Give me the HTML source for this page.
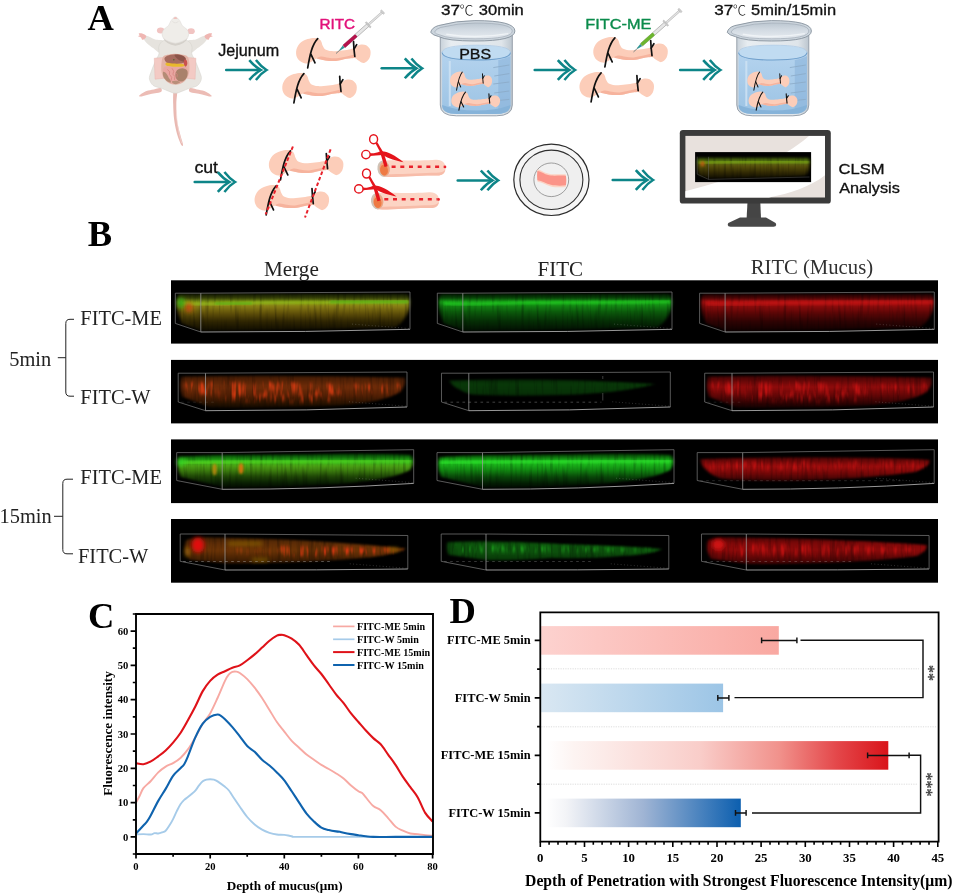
<!DOCTYPE html>
<html lang="en"><head><meta charset="utf-8"><title>Figure</title>
<style>html,body{margin:0;padding:0;background:#fff}svg{display:block}</style></head>
<body>
<svg width="955" height="895" viewBox="0 0 955 895">
<rect width="955" height="895" fill="#fff"/>
<defs>
<g id="segbody"><path d="M-0.30 12.60C-0.03 9.98 1.38 6.77 3.30 4.70C5.22 2.63 8.50 1.13 11.20 0.20C13.90 -0.73 17.32 -1.13 19.50 -0.90C21.68 -0.67 23.17 0.32 24.30 1.60C25.43 2.88 25.52 5.32 26.30 6.80C27.08 8.28 27.50 9.60 29.00 10.50C30.50 11.40 32.52 12.03 35.30 12.20C38.08 12.37 42.57 11.82 45.70 11.50C48.83 11.18 52.00 10.77 54.10 10.30C56.20 9.83 56.73 9.46 58.30 8.70C59.87 7.94 61.58 6.15 63.50 5.75C65.42 5.35 68.05 5.34 69.80 6.30C71.55 7.26 73.47 9.32 74.00 11.50C74.53 13.68 74.05 17.30 73.00 19.40C71.95 21.50 69.53 23.75 67.70 24.10C65.87 24.45 63.65 22.38 62.00 21.50C60.35 20.62 59.82 19.07 57.80 18.80C55.78 18.53 52.97 19.37 49.90 19.90C46.83 20.43 42.88 21.73 39.40 22.00C35.92 22.27 32.13 21.90 29.00 21.50C25.87 21.10 22.87 19.43 20.60 19.60C18.33 19.77 17.32 21.67 15.40 22.50C13.48 23.33 11.38 24.95 9.10 24.60C6.82 24.25 3.27 22.40 1.70 20.40C0.13 18.40 -0.57 15.22 -0.30 12.60Z" fill="#fccdb9"/><path d="M20.60 19.60C19.93 18.95 23.10 17.73 25.00 17.60C26.90 17.47 29.50 18.50 32.00 18.80C34.50 19.10 37.00 19.60 40.00 19.40C43.00 19.20 47.03 18.20 50.00 17.60C52.97 17.00 56.50 15.60 57.80 15.80C59.10 16.00 59.12 18.12 57.80 18.80C56.48 19.48 52.97 19.37 49.90 19.90C46.83 20.43 42.88 21.73 39.40 22.00C35.92 22.27 32.13 21.90 29.00 21.50C25.87 21.10 21.27 20.25 20.60 19.60Z" fill="#f6b39d"/></g>
<g id="ties" fill="none" stroke="#111" stroke-width="1.7" stroke-linecap="round"><path d="M21.3 -0.2C15.5 6 13.5 16 11.3 28.9"/><path d="M14.6 15.5L18.6 23.9"/><path d="M57.1 2.5C57.3 8 57.8 13 58.4 17.6"/><path d="M57.6 10.1L60.3 5.7"/></g>
<g id="seg"><use href="#segbody"/><use href="#ties"/></g>
<g id="arrow" fill="none" stroke="#0d8588" stroke-width="2.5" stroke-linejoin="miter" stroke-miterlimit="6"><path d="M-42.3 0H-8" stroke-linecap="round"/><path d="M-19.2 -9.9Q-13.6 -3.2 -7.6 0Q-13.6 3.2 -19.2 9.9"/><path d="M-12.6 -9.9Q-7.4 -3.2 -2 0Q-7.4 3.2 -12.6 9.9"/></g>
<g id="syr"><path d="M0 0L6 0" stroke="#6a7a7a" stroke-width="0.8"/><path d="M5.2 -0.5L10.6 -1.5V1.5L5.2 0.5Z" fill="#2f9696"/><rect x="10.6" y="-1.65" width="32.6" height="3.3" fill="#e6e6e6" stroke="#9c9c9c" stroke-width="0.6"/><rect x="10.6" y="-1.75" width="16.6" height="3.5" rx="0.8" style="fill:var(--l)"/><rect x="42.4" y="-3.6" width="1.5" height="7.2" rx="0.5" fill="#cfcfcf" stroke="#a2a2a2" stroke-width="0.4"/><rect x="43.9" y="-0.9" width="18" height="1.8" fill="#e2e2e2" stroke="#a8a8a8" stroke-width="0.5"/><rect x="61.4" y="-2.3" width="1.7" height="4.6" rx="0.5" fill="#d2d2d2" stroke="#a2a2a2" stroke-width="0.4"/></g>
<linearGradient id="water" x1="0" y1="0" x2="0" y2="1"><stop offset="0" stop-color="#b4d3ee"/><stop offset="1" stop-color="#9cc3e4"/></linearGradient>
<linearGradient id="glass" x1="0" y1="0" x2="1" y2="0"><stop offset="0" stop-color="#c9d2da"/><stop offset="0.15" stop-color="#e8edf1"/><stop offset="0.85" stop-color="#dfe5ea"/><stop offset="1" stop-color="#bcc6cf"/></linearGradient>
<linearGradient id="rimg" x1="0" y1="0" x2="0" y2="1"><stop offset="0" stop-color="#bcc7d1"/><stop offset="0.45" stop-color="#d3dbe3"/><stop offset="1" stop-color="#e6ebf0"/></linearGradient>
<g id="beaker"><path d="M-36 33V105Q-36 115.8 -20 115.8H20Q36 115.8 36 105V33Z" fill="url(#glass)" stroke="#8e99a4" stroke-width="0.9"/><path d="M-34.2 52.6V105Q-34.2 114 -19 114H19Q34.2 114 34.2 105V52.6Z" fill="url(#water)"/><path d="M22 60V112.5Q34.2 111 34.2 105V56Q30 58.5 22 60Z" fill="#8db5dc" opacity="0.65"/><path d="M-34.2 105Q-34.2 114 -19 114H19Q34.2 114 34.2 105Q20 110.5 0 110.5Q-20 110.5 -34.2 105Z" fill="#86b3d9"/><ellipse cx="0" cy="52.6" rx="34.2" ry="7.4" fill="#c0dbf1"/><path d="M-34.2 52.6Q-34 60 0 60Q34 60 34.2 52.6" fill="none" stroke="#6f9fcb" stroke-width="1.1"/><path d="M-34.2 52.6Q-34 45.2 0 45.2Q34 45.2 34.2 52.6" fill="none" stroke="#a9c9e6" stroke-width="0.7"/><path d="M-26.5 61V106" stroke="#cfe3f4" stroke-width="2" opacity="0.85"/><g stroke="#8aa9c6" stroke-width="0.8"><path d="M17 67.6L33 65"/><path d="M18 76L33 73.6"/><path d="M17 84L33 82"/><path d="M18 93L33 91"/><path d="M17 101L33 99.4"/></g><path d="M-45.6 32.4Q-44.5 27.5 -38 25.6Q-20 20.6 -1.4 20.6Q38.6 20.6 38.6 31Q38.6 41 -1.4 41Q-29 41 -37.5 36.6Q-43.5 35.2 -45.6 32.4Z" fill="#ccd5dd" stroke="#87929d" stroke-width="0.9"/><path d="M-41.8 32.2Q-40.6 28.8 -35.5 27.4Q-18 23 -1.2 23Q36 23 36 31Q36 38.8 -1.2 38.8Q-28 38.8 -35.6 35.2Q-40.4 34.2 -41.8 32.2Z" fill="url(#rimg)" stroke="#a0abb6" stroke-width="0.7"/><path d="M-30 34.2Q-1 39.2 32 33.6" fill="none" stroke="#f1f4f7" stroke-width="1.4" opacity="0.9"/></g>
</defs>
<text x="87.6" y="29.7" style="font-family:'Liberation Serif',serif;font-weight:bold;font-size:36.5px">A</text>
<g transform="translate(130,10) scale(0.15652)"><path d="M279.00 515.00C274.83 529.17 275.50 569.17 276.00 600.00C276.50 630.83 278.00 668.33 282.00 700.00C286.00 731.67 292.33 763.00 300.00 790.00C307.67 817.00 321.67 850.67 328.00 862.00C334.33 873.33 339.67 870.83 338.00 858.00C336.33 845.17 324.33 811.33 318.00 785.00C311.67 758.67 303.67 730.83 300.00 700.00C296.33 669.17 295.83 630.83 296.00 600.00C296.17 569.17 303.83 529.17 301.00 515.00C298.17 500.83 283.17 500.83 279.00 515.00Z" fill="#e9b9b2"/><path d="M296 640C298 700 306 770 330 850" fill="none" stroke="#f6dcd8" stroke-width="4"/><path d="M195.00 498.00C185.00 496.00 156.67 506.00 140.00 510.00C123.33 514.00 108.67 515.67 95.00 522.00C81.33 528.33 61.33 543.00 58.00 548.00C54.67 553.00 64.67 553.33 75.00 552.00C85.33 550.67 105.83 543.33 120.00 540.00C134.17 536.67 146.67 535.00 160.00 532.00C173.33 529.00 194.17 527.67 200.00 522.00C205.83 516.33 205.00 500.00 195.00 498.00Z" fill="#ecbcb5"/><path d="M385.00 498.00C395.00 496.00 423.33 506.00 440.00 510.00C456.67 514.00 471.33 515.67 485.00 522.00C498.67 528.33 518.67 543.00 522.00 548.00C525.33 553.00 515.33 553.33 505.00 552.00C494.67 550.67 474.17 543.33 460.00 540.00C445.83 536.67 433.33 535.00 420.00 532.00C406.67 529.00 385.83 527.67 380.00 522.00C374.17 516.33 375.00 500.00 385.00 498.00Z" fill="#ecbcb5"/><path d="M215.00 200.00C208.67 185.50 178.33 193.83 160.00 188.00C141.67 182.17 117.00 165.83 105.00 165.00C93.00 164.17 87.50 175.17 88.00 183.00C88.50 190.83 97.67 201.67 108.00 212.00C118.33 222.33 135.00 234.50 150.00 245.00C165.00 255.50 187.17 282.50 198.00 275.00C208.83 267.50 221.33 214.50 215.00 200.00Z" fill="#e6e3de"/><path d="M365.00 200.00C371.33 185.50 401.67 193.83 420.00 188.00C438.33 182.17 463.00 165.83 475.00 165.00C487.00 164.17 492.50 175.17 492.00 183.00C491.50 190.83 482.33 201.67 472.00 212.00C461.67 222.33 445.00 234.50 430.00 245.00C415.00 255.50 392.83 282.50 382.00 275.00C371.17 267.50 358.67 214.50 365.00 200.00Z" fill="#e6e3de"/><path d="M104.00 166.00C101.67 160.00 86.00 152.67 78.00 150.00C70.00 147.33 58.67 148.00 56.00 150.00C53.33 152.00 62.67 159.00 62.00 162.00C61.33 165.00 50.67 165.67 52.00 168.00C53.33 170.33 65.67 172.33 70.00 176.00C74.33 179.67 74.33 188.33 78.00 190.00C81.67 191.67 87.67 190.00 92.00 186.00C96.33 182.00 106.33 172.00 104.00 166.00Z" fill="#efb6b2"/><path d="M476.00 166.00C478.33 160.00 494.00 152.67 502.00 150.00C510.00 147.33 521.33 148.00 524.00 150.00C526.67 152.00 517.33 159.00 518.00 162.00C518.67 165.00 529.33 165.67 528.00 168.00C526.67 170.33 514.33 172.33 510.00 176.00C505.67 179.67 505.67 188.33 502.00 190.00C498.33 191.67 492.33 190.00 488.00 186.00C483.67 182.00 473.67 172.00 476.00 166.00Z" fill="#efb6b2"/><path d="M215.00 195.00C197.50 203.33 190.00 215.83 185.00 230.00C180.00 244.17 188.33 265.00 185.00 280.00C181.67 295.00 173.33 300.83 165.00 320.00C156.67 339.17 141.83 375.00 135.00 395.00C128.17 415.00 121.83 425.50 124.00 440.00C126.17 454.50 135.33 472.00 148.00 482.00C160.67 492.00 183.00 493.67 200.00 500.00C217.00 506.33 235.00 514.67 250.00 520.00C265.00 525.33 276.67 532.00 290.00 532.00C303.33 532.00 315.00 525.33 330.00 520.00C345.00 514.67 363.00 506.33 380.00 500.00C397.00 493.67 419.33 492.00 432.00 482.00C444.67 472.00 453.83 454.50 456.00 440.00C458.17 425.50 451.83 415.00 445.00 395.00C438.17 375.00 423.33 339.17 415.00 320.00C406.67 300.83 398.33 295.00 395.00 280.00C391.67 265.00 400.00 244.17 395.00 230.00C390.00 215.83 382.50 203.33 365.00 195.00C347.50 186.67 315.00 180.00 290.00 180.00C265.00 180.00 232.50 186.67 215.00 195.00Z" fill="#e8e5e0" stroke="#d3cfc9" stroke-width="3"/><ellipse cx="196" cy="131" rx="24" ry="19" fill="#f1c4c2"/><ellipse cx="390" cy="135" rx="24" ry="19" fill="#f1c4c2"/><path d="M210 178Q290 250 370 178Q350 222 290 228Q230 222 210 178Z" fill="#d4d0ca"/><path d="M290.00 44.00C280.67 44.00 269.33 58.67 262.00 68.00C254.67 77.33 253.67 90.67 246.00 100.00C238.33 109.33 222.83 115.33 216.00 124.00C209.17 132.67 205.00 142.33 205.00 152.00C205.00 161.67 208.50 173.67 216.00 182.00C223.50 190.33 237.67 197.00 250.00 202.00C262.33 207.00 276.67 212.00 290.00 212.00C303.33 212.00 317.67 207.00 330.00 202.00C342.33 197.00 356.50 190.33 364.00 182.00C371.50 173.67 375.00 161.67 375.00 152.00C375.00 142.33 370.83 132.67 364.00 124.00C357.17 115.33 341.67 109.33 334.00 100.00C326.33 90.67 325.33 77.33 318.00 68.00C310.67 58.67 299.33 44.00 290.00 44.00Z" fill="#efede9" stroke="#d9d5cf" stroke-width="3"/><path d="M276 52Q290 40 304 52Q290 60 276 52Z" fill="#efb4b0"/><path d="M270 72Q290 92 310 72" fill="none" stroke="#d9d5cf" stroke-width="3"/><path d="M155 308L218 303L218 436L160 442Z" fill="#f3cac4" stroke="#e4aea7" stroke-width="2.5"/><path d="M362 303L421 308L416 442L362 436Z" fill="#f3cac4" stroke="#e4aea7" stroke-width="2.5"/><path d="M208.00 305.00C216.00 285.67 236.33 288.33 250.00 284.00C263.67 279.67 276.67 279.00 290.00 279.00C303.33 279.00 316.33 279.67 330.00 284.00C343.67 288.33 364.00 285.67 372.00 305.00C380.00 324.33 382.50 374.50 378.00 400.00C373.50 425.50 359.67 445.33 345.00 458.00C330.33 470.67 308.17 476.00 290.00 476.00C271.83 476.00 250.67 470.67 236.00 458.00C221.33 445.33 206.67 425.50 202.00 400.00C197.33 374.50 200.00 324.33 208.00 305.00Z" fill="#e3b3a6"/><path d="M220.00 312.00C219.67 304.00 226.33 296.83 238.00 292.00C249.67 287.17 273.83 283.33 290.00 283.00C306.17 282.67 324.00 285.83 335.00 290.00C346.00 294.17 353.50 300.67 356.00 308.00C358.50 315.33 359.33 327.83 350.00 334.00C340.67 340.17 318.33 344.00 300.00 345.00C281.67 346.00 253.33 345.50 240.00 340.00C226.67 334.50 220.33 320.00 220.00 312.00Z" fill="#a66b5e"/><path d="M285.00 288.00C288.33 283.33 318.50 286.67 330.00 290.00C341.50 293.33 351.00 301.33 354.00 308.00C357.00 314.67 355.33 328.33 348.00 330.00C340.67 331.67 320.50 325.00 310.00 318.00C299.50 311.00 281.67 292.67 285.00 288.00Z" fill="#8b5449"/><circle cx="280" cy="318" r="5" fill="#4f6a2c"/><path d="M347.00 318.00C350.00 313.33 358.83 317.50 362.00 322.00C365.17 326.50 367.00 338.33 366.00 345.00C365.00 351.67 359.67 361.17 356.00 362.00C352.33 362.83 345.50 357.33 344.00 350.00C342.50 342.67 344.00 322.67 347.00 318.00Z" fill="#c9524e"/><path d="M214.00 372.00C219.00 360.33 235.67 361.00 250.00 360.00C264.33 359.00 284.00 366.00 300.00 366.00C316.00 366.00 335.00 357.67 346.00 360.00C357.00 362.33 363.67 368.33 366.00 380.00C368.33 391.67 366.00 416.67 360.00 430.00C354.00 443.33 341.67 453.33 330.00 460.00C318.33 466.67 303.33 469.67 290.00 470.00C276.67 470.33 261.67 468.67 250.00 462.00C238.33 455.33 226.00 445.00 220.00 430.00C214.00 415.00 209.00 383.67 214.00 372.00Z" fill="#e9a6a1"/><path d="M300.00 385.00C307.50 377.00 324.00 371.50 335.00 372.00C346.00 372.50 361.17 378.67 366.00 388.00C370.83 397.33 368.67 416.83 364.00 428.00C359.33 439.17 347.67 451.33 338.00 455.00C328.33 458.67 314.00 455.83 306.00 450.00C298.00 444.17 291.00 430.83 290.00 420.00C289.00 409.17 292.50 393.00 300.00 385.00Z" fill="#a9826b"/><path d="M212.00 395.00C215.00 391.17 225.33 397.50 232.00 405.00C238.67 412.50 247.00 430.50 252.00 440.00C257.00 449.50 264.33 459.50 262.00 462.00C259.67 464.50 246.00 460.67 238.00 455.00C230.00 449.33 218.33 438.00 214.00 428.00C209.67 418.00 209.00 398.83 212.00 395.00Z" fill="#b48c76"/><path d="M270.00 455.00C274.33 452.33 291.67 450.83 300.00 452.00C308.33 453.17 320.67 458.33 320.00 462.00C319.33 465.67 303.67 473.00 296.00 474.00C288.33 475.00 278.33 471.17 274.00 468.00C269.67 464.83 265.67 457.67 270.00 455.00Z" fill="#b98f7a"/><path d="M238 380Q262 392 252 412Q276 428 262 452M268 372Q288 392 274 410Q296 424 284 446M292 400Q308 410 300 430" fill="none" stroke="#d5837f" stroke-width="5"/><path d="M230.00 338.00C235.67 335.67 251.67 340.67 270.00 342.00C288.33 343.33 327.83 343.00 340.00 346.00C352.17 349.00 349.67 357.17 343.00 360.00C336.33 362.83 317.83 363.67 300.00 363.00C282.17 362.33 247.67 360.17 236.00 356.00C224.33 351.83 224.33 340.33 230.00 338.00Z" fill="#e9b92c"/></g>
<text x="218.2" y="55.5" textLength="61.0" lengthAdjust="spacingAndGlyphs" style="font-family:'Liberation Sans',sans-serif;font-size:16px" fill="#111" stroke="#111" stroke-width="0.32">Jejunum</text>
<use href="#arrow" x="268.5" y="70"/>
<use href="#seg" x="296.4" y="38.9"/>
<use href="#seg" x="282.6" y="73.9"/>
<text x="319.4" y="28.9" textLength="35.6" lengthAdjust="spacingAndGlyphs" style="font-family:'Liberation Sans',sans-serif;font-size:15.5px" fill="#e2127a" stroke="#e2127a" stroke-width="0.45">RITC</text>
<g transform="translate(336,53.5) rotate(-41.7)" style="--l:#b5124c"><use href="#syr" class="syr1"/></g>
<use href="#arrow" x="424" y="68.3"/>
<text x="441.0" y="14.7" textLength="19.0" lengthAdjust="spacingAndGlyphs" style="font-family:'Liberation Sans',sans-serif;font-size:14.6px" fill="#111" stroke="#111" stroke-width="0.32">37</text>
<text x="459.6" y="14.7" textLength="14" lengthAdjust="spacingAndGlyphs" style="font-family:'Liberation Sans','Noto Sans CJK SC',sans-serif;font-size:14px;font-weight:300" fill="#111">℃</text>
<text x="478.8" y="14.7" textLength="45.0" lengthAdjust="spacingAndGlyphs" style="font-family:'Liberation Sans',sans-serif;font-size:14.6px" fill="#111" stroke="#111" stroke-width="0.32">30min</text>
<use href="#beaker" x="476.3" y="0"/>
<text x="459.2" y="59.0" textLength="32.0" lengthAdjust="spacingAndGlyphs" style="font-family:'Liberation Sans',sans-serif;font-size:14.6px" fill="#111" stroke="#111" stroke-width="0.32">PBS</text>
<g transform="translate(450.2,72.2) scale(0.565,0.62)"><use href="#seg"/></g>
<g transform="translate(451.5,92.2) scale(0.655,0.62)"><use href="#seg"/></g>
<use href="#arrow" x="577" y="70"/>
<text x="585.3" y="29.1" textLength="66.2" lengthAdjust="spacingAndGlyphs" style="font-family:'Liberation Sans',sans-serif;font-size:14.8px" fill="#0b8b4b" stroke="#0b8b4b" stroke-width="0.36">FITC-ME</text>
<use href="#seg" x="593.6" y="38"/>
<use href="#seg" x="579.8" y="73"/>
<g transform="translate(633.5,51.9) rotate(-41.7)" style="--l:#6cb52e"><use href="#syr"/></g>
<use href="#arrow" x="722.4" y="70"/>
<text x="714.3" y="15.4" textLength="19.0" lengthAdjust="spacingAndGlyphs" style="font-family:'Liberation Sans',sans-serif;font-size:14.1px" fill="#111" stroke="#111" stroke-width="0.32">37</text>
<text x="732.7" y="15.4" textLength="13.4" lengthAdjust="spacingAndGlyphs" style="font-family:'Liberation Sans','Noto Sans CJK SC',sans-serif;font-size:13.6px;font-weight:300" fill="#111">℃</text>
<text x="751.1" y="15.4" textLength="85.0" lengthAdjust="spacingAndGlyphs" style="font-family:'Liberation Sans',sans-serif;font-size:14.1px" fill="#111" stroke="#111" stroke-width="0.32">5min/15min</text>
<use href="#beaker" x="772.8" y="0"/>
<g transform="translate(747.5,72.2) scale(0.565,0.62)"><use href="#seg"/></g>
<g transform="translate(748.8,92.2) scale(0.655,0.62)"><use href="#seg"/></g>
<text x="194.4" y="173.0" textLength="23.6" lengthAdjust="spacingAndGlyphs" style="font-family:'Liberation Sans',sans-serif;font-size:16px" fill="#111" stroke="#111" stroke-width="0.32">cut</text>
<use href="#arrow" x="237" y="182"/>
<use href="#seg" x="269.2" y="151"/>
<use href="#seg" x="254.9" y="186"/>
<g stroke="#e8212b" stroke-width="2" stroke-dasharray="3.6 2.3" fill="none"><path d="M292.9 146.5L265.7 214.3"/><path d="M330.6 149.4L305 217.5"/></g>
<g transform="translate(377.4,160.2)"><path d="M6 0.3C20 -0.8 45 1.2 58 -0.4C65 -1 68.2 3.5 68.2 7.8C68.2 12.5 65.5 15.6 59 15.3C45 14.8 20 17.2 6 16.6Z" fill="#fcd4c4"/><path d="M6 13.8C20 14.6 45 12.6 59 12.6C63.5 12.6 66.5 11.4 67.8 9.6C67.2 13.6 64.5 15.6 59 15.3C45 14.8 20 17.2 6 16.6Z" fill="#f7bca9"/><ellipse cx="6.2" cy="8.4" rx="6.2" ry="8.3" fill="#cfc2b6" transform="rotate(-8 6.2 8.4)"/><ellipse cx="7.2" cy="8.6" rx="5" ry="7.2" fill="#f3a27c" transform="rotate(-8 7.2 8.6)"/><ellipse cx="6.6" cy="10" rx="3.9" ry="5.4" fill="#ee7a44" transform="rotate(-8 6.6 10)"/><path d="M14.2 6.6H66.6" stroke="#e8212b" stroke-width="2.6" stroke-dasharray="4 4.7" fill="none"/><circle cx="67.6" cy="6.7" r="1.3" fill="#e8212b"/></g>
<g transform="translate(371.0,192.7)"><path d="M6 0.3C20 -0.8 45 1.2 58 -0.4C65 -1 68.2 3.5 68.2 7.8C68.2 12.5 65.5 15.6 59 15.3C45 14.8 20 17.2 6 16.6Z" fill="#fcd4c4"/><path d="M6 13.8C20 14.6 45 12.6 59 12.6C63.5 12.6 66.5 11.4 67.8 9.6C67.2 13.6 64.5 15.6 59 15.3C45 14.8 20 17.2 6 16.6Z" fill="#f7bca9"/><ellipse cx="6.2" cy="8.4" rx="6.2" ry="8.3" fill="#cfc2b6" transform="rotate(-8 6.2 8.4)"/><ellipse cx="7.2" cy="8.6" rx="5" ry="7.2" fill="#f3a27c" transform="rotate(-8 7.2 8.6)"/><ellipse cx="6.6" cy="10" rx="3.9" ry="5.4" fill="#ee7a44" transform="rotate(-8 6.6 10)"/><path d="M13.3 6.6H66.6" stroke="#e8212b" stroke-width="2.6" stroke-dasharray="4 4.7" fill="none"/><circle cx="67.6" cy="6.7" r="1.3" fill="#e8212b"/></g>
<g transform="translate(373.6,139.2) scale(0.10471)" fill="#e5141c"><path d="M16 38C34 70 48 94 60 118L104 266L134 258C120 200 106 152 88 118C70 84 50 54 36 28Z"/><path d="M-36 134C-5 138 30 132 62 116C120 108 200 150 286 219C220 206 140 186 88 150C40 150 0 158 -34 161Z"/><ellipse cx="0" cy="0" rx="38" ry="43" fill="#fff" stroke="#e5141c" stroke-width="13.5"/><ellipse cx="-73" cy="147" rx="40" ry="40" fill="#fff" stroke="#e5141c" stroke-width="13.5"/></g>
<g transform="translate(366.5,173.5) scale(0.10471)" fill="#e5141c"><path d="M16 38C34 70 48 94 60 118L104 266L134 258C120 200 106 152 88 118C70 84 50 54 36 28Z"/><path d="M-36 134C-5 138 30 132 62 116C120 108 200 150 286 219C220 206 140 186 88 150C40 150 0 158 -34 161Z"/><ellipse cx="0" cy="0" rx="38" ry="43" fill="#fff" stroke="#e5141c" stroke-width="13.5"/><ellipse cx="-73" cy="147" rx="40" ry="40" fill="#fff" stroke="#e5141c" stroke-width="13.5"/></g>
<use href="#arrow" x="500" y="180.4"/>
<ellipse cx="551.4" cy="179.8" rx="37.6" ry="35.7" fill="#f6f6f6" stroke="#2c2c2c" stroke-width="1.2"/>
<ellipse cx="551.4" cy="179.8" rx="31.5" ry="29.7" fill="#efefef" stroke="#2f2f2f" stroke-width="1.1"/>
<ellipse cx="551.3" cy="179.8" rx="17.4" ry="16.8" fill="#f1f1f1" stroke="#7a7a7a" stroke-width="0.7"/>
<path d="M537.6 169.6C541 170 546 174 551 174.2C556 174.4 561 174 565.6 174.3C566.4 178 566.4 183 565.6 186.9C561 187.6 555 187.4 551 186.4C546 185.2 542 182.4 537.6 181.8C536.8 178 536.8 173 537.6 169.6Z" fill="#fcd3c4"/>
<path d="M537.4 171C541 171.4 546 175.4 551 175.6C556 175.8 561 175.4 565.9 175.7C566.4 179 566.4 182 565.9 185.3C561 186 555 185.8 551 184.8C546 183.6 542 180.8 537.4 180.2C537 177 537 174 537.4 171Z" fill="#fb9489"/>
<use href="#arrow" x="655" y="180"/>
<path d="M747.6 200H760.2L761 218.5H746.6Z" fill="#454545"/>
<path d="M740 217.4H766L775.6 223Q777.4 226.8 773.5 226.8H730.5Q726.5 226.8 728.3 223Z" fill="#484848"/>
<rect x="679.8" y="130" width="151" height="73.6" rx="3.2" fill="#3b3b3b"/>
<rect x="685.4" y="135.9" width="139.6" height="61.6" fill="#e8e1dd"/>
<path d="M685.4 191.2C730 180 775 165 809 135.9H825V175.3C810 187 790 193.5 769 197.5H685.4Z" fill="#fff"/>
<linearGradient id="mon" gradientUnits="userSpaceOnUse" x1="0" y1="156" x2="0" y2="179"><stop offset="0" stop-color="#1c2402"/><stop offset="0.25" stop-color="#5c8012"/><stop offset="0.4" stop-color="#5c560c"/><stop offset="0.7" stop-color="#342c04"/><stop offset="1" stop-color="#0c0a00"/></linearGradient>
<rect x="695.1" y="152.1" width="116" height="30" fill="#000"/>
<path d="M698.5 157.5H808.5Q810 158 809.6 163Q809 172 806 175.5C780 177.5 730 178.5 708 178.6L699 175.5Q697 168 697.3 160Q697.5 157.5 698.5 157.5Z" fill="url(#mon)" filter="url(#fx)"/>
<path d="M699 162.6Q750 161.5 809 161.8" fill="none" stroke="#86b01a" stroke-width="1.8" filter="url(#bl1)" opacity="0.85"/>
<path d="M735 164H800" fill="none" stroke="#a08a14" stroke-width="2.5" filter="url(#bl1)" opacity="0.5"/>
<ellipse cx="702.5" cy="163.8" rx="2.2" ry="2.8" fill="#c25a0c" filter="url(#bl1)" opacity="0.8"/>
<path d="M757 160V165" stroke="#e03010" stroke-width="1" filter="url(#bl1)"/>
<path d="M697.2 156.6V174.2L708.5 179.4V156.8M708.5 179.4L809.5 177" fill="none" stroke="#777" stroke-width="0.5" opacity="0.7"/>
<text x="838.5" y="174.1" textLength="46.0" lengthAdjust="spacingAndGlyphs" style="font-family:'Liberation Sans',sans-serif;font-size:15.3px" fill="#111" stroke="#111" stroke-width="0.32">CLSM</text>
<text x="839.2" y="192.7" textLength="60.6" lengthAdjust="spacingAndGlyphs" style="font-family:'Liberation Sans',sans-serif;font-size:15.3px" fill="#111" stroke="#111" stroke-width="0.32">Analysis</text>
<text x="87.8" y="246.2" style="font-family:'Liberation Serif',serif;font-weight:bold;font-size:36.5px">B</text>
<g fill="#222" style="font-family:'Liberation Serif',serif;font-size:20.4px">
<text x="263.9" y="276.1" style="font-size:21.2px">Merge</text>
<text x="537.6" y="276" style="font-size:21px">FITC</text>
<text x="750.7" y="273.8" style="font-size:20.7px" fill="#303030">RITC (Mucus)</text>
<text x="80.3" y="325">FITC-ME</text>
<text x="80.3" y="404">FITC-W</text>
<text x="9.3" y="365.8">5min</text>
<text x="80.3" y="484.2">FITC-ME</text>
<text x="78" y="563.3">FITC-W</text>
<text x="-0.4" y="523.2">15min</text>
</g>
<g fill="none" stroke="#222" stroke-width="1"><path d="M74 319.3H70Q65.8 319.3 65.8 323.5V392Q65.8 396.2 70 396.2H74M65.8 357.7H57.8"/><path d="M73 479.2H67Q62.8 479.2 62.8 483.4V549.6Q62.8 553.8 67 553.8H73M62.8 516.3H54"/></g>
<rect x="171" y="280.3" width="767" height="63.3" fill="#000"/>
<rect x="171" y="359.9" width="767" height="63.5" fill="#000"/>
<rect x="171" y="439.4" width="767" height="63.7" fill="#000"/>
<rect x="171" y="519.0" width="767" height="63.7" fill="#000"/>
<defs>
<filter id="fx" x="-5%" y="-30%" width="110%" height="160%" color-interpolation-filters="sRGB"><feTurbulence type="fractalNoise" baseFrequency="0.3 0.03" numOctaves="2" seed="7" result="n"/><feColorMatrix in="n" type="matrix" values="0 0 0 0 1 0 0 0 0 1 0 0 0 0 1 0.7 0 0 0 0.62" result="m"/><feGaussianBlur in="SourceGraphic" stdDeviation="1.5 1.2" result="b"/><feComposite in="b" in2="m" operator="in"/></filter>
<filter id="fs1" x="-5%" y="-40%" width="110%" height="180%" color-interpolation-filters="sRGB"><feTurbulence type="fractalNoise" baseFrequency="0.22 0.045" numOctaves="2" seed="3" result="n"/><feColorMatrix in="n" type="matrix" values="0 0 0 0 1 0 0 0 0 1 0 0 0 0 1 3.6 0 0 0 -1.75" result="m"/><feGaussianBlur in="SourceGraphic" stdDeviation="1.6 1.6" result="b"/><feComposite in="b" in2="m" operator="in" result="c"/><feGaussianBlur in="c" stdDeviation="0.5 0.9"/></filter>
<filter id="fs2" x="-5%" y="-40%" width="110%" height="180%" color-interpolation-filters="sRGB"><feTurbulence type="fractalNoise" baseFrequency="0.22 0.045" numOctaves="2" seed="11" result="n"/><feColorMatrix in="n" type="matrix" values="0 0 0 0 1 0 0 0 0 1 0 0 0 0 1 3.6 0 0 0 -1.7" result="m"/><feGaussianBlur in="SourceGraphic" stdDeviation="1.6 1.6" result="b"/><feComposite in="b" in2="m" operator="in" result="c"/><feGaussianBlur in="c" stdDeviation="0.5 0.9"/></filter>
<filter id="fs3" x="-5%" y="-40%" width="110%" height="180%" color-interpolation-filters="sRGB"><feTurbulence type="fractalNoise" baseFrequency="0.22 0.045" numOctaves="2" seed="23" result="n"/><feColorMatrix in="n" type="matrix" values="0 0 0 0 1 0 0 0 0 1 0 0 0 0 1 3.4 0 0 0 -1.6" result="m"/><feGaussianBlur in="SourceGraphic" stdDeviation="1.6 1.6" result="b"/><feComposite in="b" in2="m" operator="in" result="c"/><feGaussianBlur in="c" stdDeviation="0.5 0.9"/></filter>
<filter id="bl2" x="-50%" y="-50%" width="200%" height="200%"><feGaussianBlur stdDeviation="2.2"/></filter>
<filter id="bl1" x="-50%" y="-50%" width="200%" height="200%"><feGaussianBlur stdDeviation="1.1"/></filter>
<linearGradient id="g1m" gradientUnits="userSpaceOnUse" x1="0" y1="293" x2="0" y2="332"><stop offset="0" stop-color="#141a02"/><stop offset="0.12" stop-color="#2e3806"/><stop offset="0.23" stop-color="#86a018"/><stop offset="0.33" stop-color="#8a8014"/><stop offset="0.5" stop-color="#64540a"/><stop offset="0.72" stop-color="#302602"/><stop offset="1" stop-color="#0a0800"/></linearGradient>
<linearGradient id="g1f" gradientUnits="userSpaceOnUse" x1="0" y1="293" x2="0" y2="332"><stop offset="0" stop-color="#021a02"/><stop offset="0.12" stop-color="#063c06"/><stop offset="0.23" stop-color="#1aac1a"/><stop offset="0.33" stop-color="#128412"/><stop offset="0.5" stop-color="#0a560a"/><stop offset="0.72" stop-color="#052e05"/><stop offset="1" stop-color="#010c01"/></linearGradient>
<linearGradient id="g1r" gradientUnits="userSpaceOnUse" x1="0" y1="293" x2="0" y2="332"><stop offset="0" stop-color="#1a0101"/><stop offset="0.12" stop-color="#440505"/><stop offset="0.23" stop-color="#b01010"/><stop offset="0.33" stop-color="#8e0b0b"/><stop offset="0.5" stop-color="#5e0606"/><stop offset="0.72" stop-color="#300303"/><stop offset="1" stop-color="#0c0000"/></linearGradient>
<linearGradient id="g2m" gradientUnits="userSpaceOnUse" x1="0" y1="373" x2="0" y2="410"><stop offset="0" stop-color="#2a1202"/><stop offset="0.2" stop-color="#542206"/><stop offset="0.38" stop-color="#702c08"/><stop offset="0.6" stop-color="#542004"/><stop offset="0.85" stop-color="#221000"/><stop offset="1" stop-color="#0a0400"/></linearGradient>
<linearGradient id="g2f" gradientUnits="userSpaceOnUse" x1="0" y1="373" x2="0" y2="410"><stop offset="0" stop-color="#021002"/><stop offset="0.3" stop-color="#083808"/><stop offset="0.5" stop-color="#073207"/><stop offset="1" stop-color="#020c02"/></linearGradient>
<linearGradient id="g2r" gradientUnits="userSpaceOnUse" x1="0" y1="373" x2="0" y2="410"><stop offset="0" stop-color="#260202"/><stop offset="0.2" stop-color="#620707"/><stop offset="0.38" stop-color="#920b0b"/><stop offset="0.6" stop-color="#640606"/><stop offset="0.85" stop-color="#260202"/><stop offset="1" stop-color="#0a0000"/></linearGradient>
<linearGradient id="g3m" gradientUnits="userSpaceOnUse" x1="0" y1="452" x2="0" y2="489"><stop offset="0" stop-color="#043004"/><stop offset="0.12" stop-color="#0c600a"/><stop offset="0.26" stop-color="#32c01a"/><stop offset="0.36" stop-color="#4ca414"/><stop offset="0.5" stop-color="#3c7e0e"/><stop offset="0.66" stop-color="#1e4606"/><stop offset="0.85" stop-color="#081c02"/><stop offset="1" stop-color="#020800"/></linearGradient>
<linearGradient id="g3f" gradientUnits="userSpaceOnUse" x1="0" y1="452" x2="0" y2="489"><stop offset="0" stop-color="#033003"/><stop offset="0.12" stop-color="#0a620a"/><stop offset="0.26" stop-color="#20cc20"/><stop offset="0.36" stop-color="#18ac18"/><stop offset="0.5" stop-color="#108410"/><stop offset="0.66" stop-color="#094a09"/><stop offset="0.85" stop-color="#031c03"/><stop offset="1" stop-color="#010801"/></linearGradient>
<linearGradient id="g3r" gradientUnits="userSpaceOnUse" x1="0" y1="452" x2="0" y2="489"><stop offset="0" stop-color="#1c0101"/><stop offset="0.2" stop-color="#5c0606"/><stop offset="0.38" stop-color="#9c0c0c"/><stop offset="0.55" stop-color="#7c0808"/><stop offset="0.8" stop-color="#300202"/><stop offset="1" stop-color="#0c0000"/></linearGradient>
<linearGradient id="g4m" gradientUnits="userSpaceOnUse" x1="0" y1="534" x2="0" y2="570"><stop offset="0" stop-color="#2c1402"/><stop offset="0.25" stop-color="#5c2c06"/><stop offset="0.45" stop-color="#6c3406"/><stop offset="0.75" stop-color="#3c1c02"/><stop offset="1" stop-color="#140800"/></linearGradient>
<linearGradient id="g4f" gradientUnits="userSpaceOnUse" x1="0" y1="534" x2="0" y2="570"><stop offset="0" stop-color="#031c03"/><stop offset="0.3" stop-color="#0c540c"/><stop offset="0.5" stop-color="#0c500c"/><stop offset="0.8" stop-color="#052c05"/><stop offset="1" stop-color="#021002"/></linearGradient>
<linearGradient id="g4r" gradientUnits="userSpaceOnUse" x1="0" y1="534" x2="0" y2="570"><stop offset="0" stop-color="#2c0202"/><stop offset="0.25" stop-color="#7c0808"/><stop offset="0.45" stop-color="#8c0a0a"/><stop offset="0.75" stop-color="#4c0404"/><stop offset="1" stop-color="#180000"/></linearGradient>
</defs>
<g transform="translate(0.0,0)">
<path filter="url(#fx)" fill="url(#g1m)" d="M180 294H406Q410 294.5 409.6 302Q409.2 318 396 327.2Q300 330.5 202 331L182 323.5Q176.5 312 177 299Q177.5 294 180 294Z"/>
<path d="M182 303.5Q200 304.5 230 303.5T300 302.5T408 301.5" fill="none" stroke="#96c41c" stroke-width="2.2" filter="url(#bl1)" opacity="0.8"/>
<ellipse cx="181" cy="303" rx="3.6" ry="5.5" fill="#34a812" filter="url(#bl2)" opacity="0.9"/>
<ellipse cx="189" cy="307.5" rx="3.6" ry="5" fill="#cc4c0a" filter="url(#bl2)" opacity="0.85"/>
<path d="M215 303.5H252M330 301.8H408" stroke="#4cb414" stroke-width="2.2" filter="url(#bl1)" opacity="0.75"/>
<path d="M255 303H330" stroke="#a8a418" stroke-width="2.4" filter="url(#bl1)" opacity="0.6"/>
<path d="M302.6 297.5V308" stroke="#e43410" stroke-width="1.5" filter="url(#bl1)"/>
<g fill="none" stroke="#7e7e7e" stroke-width="0.7"><path d="M175.3 293.2V323.4L200.8 332.0M175.3 293.2H200.8L410.0 292.0V329.3"/></g><path d="M200.8 293.2V332.0" fill="none" stroke="#9e9e9e" stroke-width="0.75"/><path d="M200.8 332.0Q305.4 332.2 410.0 329.3" fill="none" stroke="#b2b2b2" stroke-width="0.85"/><path d="M352.0 324.1L409.0 328.5" fill="none" stroke="#bbb" stroke-width="0.7" stroke-dasharray="0.9 2.4" opacity="0.4"/>
</g>
<g transform="translate(262.0,0)">
<path filter="url(#fx)" fill="url(#g1f)" d="M180 294H406Q410 294.5 409.6 302Q409.2 318 396 327.2Q300 330.5 202 331L182 323.5Q176.5 312 177 299Q177.5 294 180 294Z"/>
<path d="M182 303.5Q200 304.5 230 303.5T300 302.5T408 301.5" fill="none" stroke="#24d424" stroke-width="2.4" filter="url(#bl1)" opacity="0.7"/>
<g fill="none" stroke="#7e7e7e" stroke-width="0.7"><path d="M175.3 293.2V323.4L200.8 332.0M175.3 293.2H200.8L410.0 292.0V329.3"/></g><path d="M200.8 293.2V332.0" fill="none" stroke="#9e9e9e" stroke-width="0.75"/><path d="M200.8 332.0Q305.4 332.2 410.0 329.3" fill="none" stroke="#b2b2b2" stroke-width="0.85"/><path d="M352.0 324.1L409.0 328.5" fill="none" stroke="#bbb" stroke-width="0.7" stroke-dasharray="0.9 2.4" opacity="0.4"/>
</g>
<g transform="translate(524.3,0)">
<path filter="url(#fx)" fill="url(#g1r)" d="M180 294H406Q410 294.5 409.6 302Q409.2 318 396 327.2Q300 330.5 202 331L182 323.5Q176.5 312 177 299Q177.5 294 180 294Z"/>
<path d="M182 303.5Q200 304.5 230 303.5T300 302.5T408 301.5" fill="none" stroke="#ec1a1a" stroke-width="5" filter="url(#bl1)" opacity="0.3"/>
<g fill="none" stroke="#7e7e7e" stroke-width="0.7"><path d="M175.3 293.2V323.4L200.8 332.0M175.3 293.2H200.8L410.0 292.0V329.3"/></g><path d="M200.8 293.2V332.0" fill="none" stroke="#9e9e9e" stroke-width="0.75"/><path d="M200.8 332.0Q305.4 332.2 410.0 329.3" fill="none" stroke="#b2b2b2" stroke-width="0.85"/><path d="M352.0 324.1L409.0 328.5" fill="none" stroke="#bbb" stroke-width="0.7" stroke-dasharray="0.9 2.4" opacity="0.4"/>
</g>
<g transform="translate(0.0,0)">
<path filter="url(#fx)" fill="url(#g2m)" d="M182 376.5Q290 374.5 404 377.5Q406.5 384 400 392Q385 402 340 405.5Q270 408.5 210 407.5L183 397Q179 386 182 376.5Z"/>
<path d="M184 383Q240 381 300 383T402 384V392Q300 397 250 397T186 390Z" fill="#dc3c12" filter="url(#fs2)" opacity="0.85"/>
<path d="M215 390Q260 396 330 394V402Q260 404 220 400Z" fill="#dc3c12" filter="url(#fs3)" opacity="0.6"/>
<path d="M263.5 372V377.5" stroke="#e01010" stroke-width="1" filter="url(#bl1)"/>
<path d="M392 386V394" stroke="#e01010" stroke-width="1.1" filter="url(#bl1)"/>
<g fill="none" stroke="#7e7e7e" stroke-width="0.7"><path d="M178.2 373.2V402.0L205.5 410.7M178.2 373.2H205.5L407.0 372.0V407.0"/></g><path d="M205.5 373.2V410.7" fill="none" stroke="#9e9e9e" stroke-width="0.75"/><path d="M205.5 410.7Q306.2 410.9 407.0 407.0" fill="none" stroke="#b2b2b2" stroke-width="0.85"/><path d="M181.2 402.2H215.0" fill="none" stroke="#c8c8c8" stroke-width="0.65" stroke-dasharray="2.6 3.4" opacity="0.20"/><path d="M349.0 401.8L406.0 406.2" fill="none" stroke="#bbb" stroke-width="0.7" stroke-dasharray="0.9 2.4" opacity="0.4"/>
</g>
<g transform="translate(263.3,0)">
<path filter="url(#fx)" fill="url(#g2f)" d="M186 380.5Q290 377.5 392 384Q360 393 300 395Q240 396.5 208 394.5Q190 389 186 380.5Z"/>
<path d="M339.5 376V400.5" fill="none" stroke="#6a6a6a" stroke-width="0.6" stroke-dasharray="3 14 8 20"/>
<g fill="none" stroke="#7e7e7e" stroke-width="0.7"><path d="M178.2 373.2V402.0L205.5 410.7M178.2 373.2H205.5L407.0 372.0V407.0"/></g><path d="M205.5 373.2V410.7" fill="none" stroke="#9e9e9e" stroke-width="0.75"/><path d="M205.5 410.7Q306.2 410.9 407.0 407.0" fill="none" stroke="#b2b2b2" stroke-width="0.85"/><path d="M181.2 402.2H338.0" fill="none" stroke="#c8c8c8" stroke-width="0.65" stroke-dasharray="2.6 3.4" opacity="0.50"/><path d="M349.0 401.8L406.0 406.2" fill="none" stroke="#bbb" stroke-width="0.7" stroke-dasharray="0.9 2.4" opacity="0.4"/>
</g>
<g transform="translate(526.5,0)">
<path filter="url(#fx)" fill="url(#g2r)" d="M182 376.5Q290 374.5 404 377.5Q406.5 384 400 392Q385 402 340 405.5Q270 408.5 210 407.5L183 397Q179 386 182 376.5Z"/>
<path d="M184 383Q240 381 300 383T402 384V392Q300 397 250 397T186 390Z" fill="#ec1818" filter="url(#fs2)" opacity="0.55"/>
<path d="M215 390Q260 396 330 394V402Q260 404 220 400Z" fill="#ec1818" filter="url(#fs3)" opacity="0.4"/>
<path d="M263.5 372V377.5" stroke="#e01010" stroke-width="1" filter="url(#bl1)"/>
<path d="M392 386V394" stroke="#e01010" stroke-width="1.1" filter="url(#bl1)"/>
<g fill="none" stroke="#7e7e7e" stroke-width="0.7"><path d="M178.2 373.2V402.0L205.5 410.7M178.2 373.2H205.5L407.0 372.0V407.0"/></g><path d="M205.5 373.2V410.7" fill="none" stroke="#9e9e9e" stroke-width="0.75"/><path d="M205.5 410.7Q306.2 410.9 407.0 407.0" fill="none" stroke="#b2b2b2" stroke-width="0.85"/><path d="M181.2 402.2H215.0" fill="none" stroke="#c8c8c8" stroke-width="0.65" stroke-dasharray="2.6 3.4" opacity="0.20"/><path d="M349.0 401.8L406.0 406.2" fill="none" stroke="#bbb" stroke-width="0.7" stroke-dasharray="0.9 2.4" opacity="0.4"/>
</g>
<g transform="translate(0.0,0)">
<path filter="url(#fx)" fill="url(#g3m)" d="M179 457Q200 454.5 300 454.5Q380 453 411 455Q415.5 462 410 470Q395 479 340 484Q270 488 224 487.5L181 477Q176 467 179 457Z"/>
<path d="M180 462.5Q300 461 411 461" fill="none" stroke="#5cdc24" stroke-width="2.6" filter="url(#bl1)" opacity="0.7"/>
<ellipse cx="241" cy="468.5" rx="2.4" ry="5.5" fill="#e07408" filter="url(#bl1)" opacity="0.9"/>
<ellipse cx="214.6" cy="469.5" rx="2.2" ry="6" fill="#cc8c0c" filter="url(#bl1)" opacity="0.8"/>
<path d="M235 466H300" stroke="#a8b414" stroke-width="4" filter="url(#bl2)" opacity="0.55"/>
<ellipse cx="181" cy="462" rx="4" ry="4" fill="#30d428" filter="url(#bl2)" opacity="0.8"/>
<path d="M330 461.5H408" stroke="#2ce424" stroke-width="3" filter="url(#bl2)" opacity="0.7"/>
<g fill="none" stroke="#7e7e7e" stroke-width="0.7"><path d="M176.7 452.6V480.5L222.2 489.3M176.7 452.6H222.2L413.7 449.7V483.4"/></g><path d="M222.2 452.6V489.3" fill="none" stroke="#9e9e9e" stroke-width="0.75"/><path d="M222.2 489.3Q317.9 489.5 413.7 483.4" fill="none" stroke="#b2b2b2" stroke-width="0.85"/><path d="M355.7 478.2L412.7 482.6" fill="none" stroke="#bbb" stroke-width="0.7" stroke-dasharray="0.9 2.4" opacity="0.4"/>
</g>
<g transform="translate(260.3,0)">
<path filter="url(#fx)" fill="url(#g3f)" d="M179 457Q200 454.5 300 454.5Q380 453 411 455Q415.5 462 410 470Q395 479 340 484Q270 488 224 487.5L181 477Q176 467 179 457Z"/>
<path d="M180 462.5Q300 461 411 461" fill="none" stroke="#30e830" stroke-width="2.6" filter="url(#bl1)" opacity="0.7"/>
<path d="M330 461.5H408" stroke="#2ce424" stroke-width="3" filter="url(#bl2)" opacity="0.7"/>
<g fill="none" stroke="#7e7e7e" stroke-width="0.7"><path d="M176.7 452.6V480.5L222.2 489.3M176.7 452.6H222.2L413.7 449.7V483.4"/></g><path d="M222.2 452.6V489.3" fill="none" stroke="#9e9e9e" stroke-width="0.75"/><path d="M222.2 489.3Q317.9 489.5 413.7 483.4" fill="none" stroke="#b2b2b2" stroke-width="0.85"/><path d="M355.7 478.2L412.7 482.6" fill="none" stroke="#bbb" stroke-width="0.7" stroke-dasharray="0.9 2.4" opacity="0.4"/>
</g>
<g transform="translate(520.5,0)">
<path filter="url(#fx)" fill="url(#g3r)" d="M180 459Q250 456.5 330 457.5Q390 458 409 460Q410 466 395 472Q340 479.5 280 480.5Q225 481.5 200 478.5Q182 472 180 459Z"/>
<path d="M184 462Q300 460 405 462V468Q300 470 190 470Z" fill="#ec1818" filter="url(#fs2)" opacity="0.5"/>
<path d="M225 466H300" stroke="#e01818" stroke-width="3" filter="url(#bl2)" opacity="0.5"/>
<path d="M282.5 452.5V457" stroke="#e01010" stroke-width="1" filter="url(#bl1)"/>
<g fill="none" stroke="#7e7e7e" stroke-width="0.7"><path d="M176.7 452.6V480.5L222.2 489.3M176.7 452.6H222.2L413.7 449.7V483.4"/></g><path d="M222.2 452.6V489.3" fill="none" stroke="#9e9e9e" stroke-width="0.75"/><path d="M222.2 489.3Q317.9 489.5 413.7 483.4" fill="none" stroke="#b2b2b2" stroke-width="0.85"/><path d="M179.7 480.7H380.0" fill="none" stroke="#c8c8c8" stroke-width="0.65" stroke-dasharray="2.6 3.4" opacity="0.30"/><path d="M355.7 478.2L412.7 482.6" fill="none" stroke="#bbb" stroke-width="0.7" stroke-dasharray="0.9 2.4" opacity="0.4"/>
</g>
<g transform="translate(0.0,0)">
<path filter="url(#fx)" fill="url(#g4m)" d="M186 541Q190 536.5 215 537.5Q320 539.5 406 548.5Q398 554 370 557.5Q300 563.5 228 563.5L190 560Q183 552 186 541Z"/>
<path d="M280 546.5Q340 547 402 549V552Q340 556 284 556Z" fill="#e43812" filter="url(#fs2)" opacity="0.9"/>
<path d="M228 548Q260 548 290 549V554Q260 555 230 554Z" fill="#c04410" filter="url(#fs3)" opacity="0.5"/>
<ellipse cx="198" cy="545" rx="6.5" ry="7.5" fill="#e01010" filter="url(#bl2)"/>
<ellipse cx="187.5" cy="552" rx="2.4" ry="5" fill="#a06c0c" filter="url(#bl2)" opacity="0.9"/>
<path d="M228 543.5H262M252 560H268M388 549.5H398" stroke="#94700a" stroke-width="3" filter="url(#bl2)" opacity="0.8"/>
<g fill="none" stroke="#7e7e7e" stroke-width="0.7"><path d="M180.2 534.0V561.3L225.0 570.0M180.2 534.0H225.0L407.8 535.5V569.0"/></g><path d="M225.0 534.0V570.0" fill="none" stroke="#9e9e9e" stroke-width="0.75"/><path d="M225.0 570.0Q316.4 570.2 407.8 569.0" fill="none" stroke="#b2b2b2" stroke-width="0.85"/><path d="M183.2 561.5H330.0" fill="none" stroke="#c8c8c8" stroke-width="0.65" stroke-dasharray="2.6 3.4" opacity="0.60"/><path d="M349.8 563.8L406.8 568.2" fill="none" stroke="#bbb" stroke-width="0.7" stroke-dasharray="0.9 2.4" opacity="0.4"/>
</g>
<g transform="translate(261.0,0)">
<path filter="url(#fx)" fill="url(#g4f)" d="M187 542Q230 540 300 544Q370 546 401 549Q390 555 360 556Q330 559 290 558Q250 561 225 560L188 555Q185 548 187 542Z"/>
<path d="M190 545Q300 546 396 549.5V551Q300 553 192 552Z" fill="#1c9c1c" filter="url(#fs2)" opacity="0.8"/>
<g fill="none" stroke="#7e7e7e" stroke-width="0.7"><path d="M180.2 534.0V561.3L225.0 570.0M180.2 534.0H225.0L407.8 535.5V569.0"/></g><path d="M225.0 534.0V570.0" fill="none" stroke="#9e9e9e" stroke-width="0.75"/><path d="M225.0 570.0Q316.4 570.2 407.8 569.0" fill="none" stroke="#b2b2b2" stroke-width="0.85"/><path d="M183.2 561.5H330.0" fill="none" stroke="#c8c8c8" stroke-width="0.65" stroke-dasharray="2.6 3.4" opacity="0.40"/><path d="M349.8 563.8L406.8 568.2" fill="none" stroke="#bbb" stroke-width="0.7" stroke-dasharray="0.9 2.4" opacity="0.4"/>
</g>
<g transform="translate(521.3,0)">
<path filter="url(#fx)" fill="url(#g4r)" d="M187 540Q195 536.5 215 537.5Q320 539 405 545Q407 550 396 556Q360 561 300 563Q250 564.5 228 564L190 559Q184 550 187 540Z"/>
<path d="M210 544Q320 545 402 548V553Q320 556 212 556Z" fill="#ec1616" filter="url(#fs2)" opacity="0.5"/>
<ellipse cx="197" cy="544.5" rx="7" ry="5.5" fill="#dc1212" filter="url(#bl2)" opacity="0.85"/>
<path d="M335 551H400" stroke="#d41414" stroke-width="3" filter="url(#bl2)" opacity="0.5"/>
<g fill="none" stroke="#7e7e7e" stroke-width="0.7"><path d="M180.2 534.0V561.3L225.0 570.0M180.2 534.0H225.0L407.8 535.5V569.0"/></g><path d="M225.0 534.0V570.0" fill="none" stroke="#9e9e9e" stroke-width="0.75"/><path d="M225.0 570.0Q316.4 570.2 407.8 569.0" fill="none" stroke="#b2b2b2" stroke-width="0.85"/><path d="M183.2 561.5H330.0" fill="none" stroke="#c8c8c8" stroke-width="0.65" stroke-dasharray="2.6 3.4" opacity="0.40"/><path d="M349.8 563.8L406.8 568.2" fill="none" stroke="#bbb" stroke-width="0.7" stroke-dasharray="0.9 2.4" opacity="0.4"/>
</g>
<text x="88" y="628" style="font-family:'Liberation Serif',serif;font-weight:bold;font-size:36.5px">C</text>
<path d="M136.00 834.50C137.24 834.44 140.94 834.16 143.41 834.16C145.89 834.16 148.98 834.67 150.83 834.50C152.68 834.33 153.30 833.30 154.54 833.13C155.77 832.96 157.01 833.58 158.25 833.47C159.48 833.36 160.72 832.90 161.95 832.44C163.19 831.98 164.42 831.87 165.66 830.73C166.90 829.58 168.13 827.52 169.37 825.58C170.60 823.64 171.84 821.46 173.07 819.06C174.31 816.66 175.55 813.63 176.78 811.17C178.02 808.72 179.25 806.20 180.49 804.31C181.73 802.43 182.96 801.06 184.20 799.86C185.43 798.66 186.67 798.08 187.91 797.11C189.14 796.14 190.38 795.11 191.61 794.02C192.85 792.94 194.08 792.02 195.32 790.60C196.56 789.17 197.79 786.99 199.03 785.45C200.26 783.91 201.50 782.31 202.74 781.33C203.97 780.36 205.21 779.96 206.44 779.62C207.68 779.28 208.91 779.28 210.15 779.28C211.39 779.28 212.62 779.28 213.86 779.62C215.09 779.96 215.71 780.13 217.56 781.33C219.42 782.53 223.13 785.34 224.98 786.82C226.83 788.31 227.45 788.77 228.69 790.25C229.92 791.74 230.54 793.00 232.40 795.74C234.25 798.48 237.34 803.17 239.81 806.72C242.28 810.26 244.75 814.03 247.22 817.01C249.70 819.98 252.17 822.44 254.64 824.55C257.11 826.67 259.58 828.33 262.06 829.70C264.53 831.07 267.00 831.98 269.47 832.78C271.94 833.58 274.41 834.16 276.88 834.50C279.36 834.84 281.83 834.56 284.30 834.84C286.77 835.13 289.24 835.87 291.72 836.21C294.19 836.56 288.01 836.79 299.13 836.90C310.25 837.01 336.20 836.90 358.45 836.90C380.69 836.90 420.24 836.90 432.60 836.90" fill="none" stroke="#a6cbe9" stroke-width="1.9" stroke-linejoin="round"/>
<path d="M136.00 802.60C136.62 801.46 138.47 798.14 139.71 795.74C140.94 793.34 141.56 790.65 143.41 788.19C145.27 785.74 148.36 783.62 150.83 780.99C153.30 778.36 155.77 774.82 158.25 772.42C160.72 770.01 163.19 768.13 165.66 766.59C168.13 765.04 170.60 764.58 173.07 763.15C175.55 761.73 178.02 760.30 180.49 758.01C182.96 755.72 185.43 752.87 187.91 749.43C190.38 746.00 192.85 741.72 195.32 737.43C197.79 733.14 200.26 727.71 202.74 723.71C205.21 719.71 207.68 717.71 210.15 713.42C212.62 709.13 215.09 703.42 217.56 697.99C220.04 692.55 223.13 684.72 224.98 680.84C226.83 676.95 227.45 676.15 228.69 674.66C229.92 673.17 231.16 672.43 232.40 671.92C233.63 671.40 234.87 671.40 236.10 671.57C237.34 671.75 237.96 671.69 239.81 672.95C241.66 674.20 244.75 676.66 247.22 679.12C249.70 681.58 252.17 684.55 254.64 687.70C257.11 690.84 259.58 694.27 262.06 697.99C264.53 701.70 267.00 705.99 269.47 709.99C271.94 713.99 274.41 718.39 276.88 722.00C279.36 725.60 281.83 728.45 284.30 731.60C286.77 734.74 289.24 738.17 291.72 740.86C294.19 743.55 296.66 745.43 299.13 747.72C301.60 750.01 304.07 752.58 306.55 754.58C309.02 756.58 311.49 758.01 313.96 759.73C316.43 761.44 318.90 763.33 321.38 764.87C323.85 766.41 326.32 767.56 328.79 768.99C331.26 770.42 333.73 771.84 336.21 773.44C338.68 775.05 341.15 776.59 343.62 778.59C346.09 780.59 348.56 783.33 351.04 785.45C353.51 787.57 356.60 790.02 358.45 791.28C360.30 792.54 360.92 791.97 362.16 793.00C363.39 794.02 364.01 795.28 365.87 797.46C367.72 799.63 370.81 803.91 373.28 806.03C375.75 808.15 378.22 808.15 380.70 810.15C383.17 812.15 385.64 815.29 388.11 818.03C390.58 820.78 393.05 824.49 395.52 826.61C398.00 828.73 400.47 829.58 402.94 830.73C405.41 831.87 407.88 832.90 410.36 833.47C412.83 834.04 415.30 833.87 417.77 834.16C420.24 834.44 422.71 834.90 425.19 835.18C427.66 835.47 431.36 835.76 432.60 835.87" fill="none" stroke="#f7a9a3" stroke-width="1.9" stroke-linejoin="round"/>
<path d="M136.00 833.47C137.24 832.16 141.56 827.58 143.41 825.58C145.27 823.58 145.89 823.18 147.12 821.47C148.36 819.75 148.98 818.72 150.83 815.29C152.68 811.86 155.77 805.29 158.25 800.88C160.72 796.48 163.19 793.05 165.66 788.88C168.13 784.71 170.60 779.28 173.07 775.85C175.55 772.42 178.64 770.24 180.49 768.30C182.34 766.36 182.96 766.18 184.20 764.18C185.43 762.18 186.05 760.75 187.91 756.29C189.76 751.84 192.85 742.86 195.32 737.43C197.79 732.00 200.26 727.14 202.74 723.71C205.21 720.28 207.68 718.39 210.15 716.85C212.62 715.31 215.71 714.56 217.56 714.45C219.42 714.33 220.04 715.36 221.27 716.16C222.51 716.96 223.13 717.42 224.98 719.25C226.83 721.08 229.92 724.28 232.40 727.14C234.87 730.00 237.34 733.26 239.81 736.40C242.28 739.55 244.75 743.43 247.22 746.00C249.70 748.58 252.17 749.55 254.64 751.84C257.11 754.12 259.58 757.44 262.06 759.73C264.53 762.01 267.00 763.44 269.47 765.56C271.94 767.67 274.41 769.96 276.88 772.42C279.36 774.87 281.83 777.16 284.30 780.30C286.77 783.45 289.24 787.57 291.72 791.28C294.19 795.00 296.66 798.88 299.13 802.60C301.60 806.32 304.07 810.43 306.55 813.58C309.02 816.72 311.49 819.12 313.96 821.47C316.43 823.81 318.90 826.21 321.38 827.64C323.85 829.07 326.32 829.41 328.79 830.04C331.26 830.67 334.35 831.13 336.21 831.41C338.06 831.70 338.68 831.53 339.91 831.75C341.15 831.98 341.77 832.38 343.62 832.78C345.47 833.18 348.56 833.76 351.04 834.16C353.51 834.56 355.98 834.84 358.45 835.18C360.92 835.53 363.39 835.93 365.87 836.21C368.34 836.50 368.34 836.79 373.28 836.90C378.22 837.01 385.64 836.90 395.52 836.90C405.41 836.90 426.42 836.90 432.60 836.90" fill="none" stroke="#0f63ae" stroke-width="2.1" stroke-linejoin="round"/>
<path d="M136.00 763.15C137.24 763.33 140.94 764.47 143.41 764.18C145.89 763.90 148.36 762.75 150.83 761.44C153.30 760.13 155.77 758.12 158.25 756.29C160.72 754.47 163.19 752.75 165.66 750.46C168.13 748.18 170.60 745.49 173.07 742.58C175.55 739.66 178.02 736.69 180.49 732.97C182.96 729.26 185.43 724.68 187.91 720.28C190.38 715.88 192.85 711.42 195.32 706.56C197.79 701.70 200.26 695.41 202.74 691.12C205.21 686.84 207.68 683.58 210.15 680.84C212.62 678.09 215.09 676.26 217.56 674.66C220.04 673.06 222.51 672.37 224.98 671.23C227.45 670.09 229.92 668.77 232.40 667.80C234.87 666.83 237.34 666.66 239.81 665.40C242.28 664.14 244.75 662.08 247.22 660.25C249.70 658.43 252.17 656.54 254.64 654.42C257.11 652.31 259.58 649.85 262.06 647.56C264.53 645.28 267.00 642.70 269.47 640.70C271.94 638.70 275.03 636.53 276.88 635.56C278.74 634.59 279.36 634.93 280.59 634.87C281.83 634.82 282.45 634.59 284.30 635.22C286.15 635.84 289.24 637.05 291.72 638.65C294.19 640.25 296.66 642.08 299.13 644.82C301.60 647.56 304.07 651.68 306.55 655.11C309.02 658.54 311.49 662.26 313.96 665.40C316.43 668.54 318.90 670.83 321.38 673.98C323.85 677.12 326.32 680.84 328.79 684.26C331.26 687.69 333.73 691.41 336.21 694.56C338.68 697.70 341.15 699.99 343.62 703.13C346.09 706.27 348.56 710.28 351.04 713.42C353.51 716.56 355.98 719.14 358.45 722.00C360.92 724.85 363.39 727.88 365.87 730.57C368.34 733.26 370.81 735.83 373.28 738.12C375.75 740.40 378.22 741.55 380.70 744.29C383.17 747.03 385.64 751.15 388.11 754.58C390.58 758.01 393.05 761.15 395.52 764.87C398.00 768.59 400.47 773.16 402.94 776.88C405.41 780.59 407.88 783.73 410.36 787.16C412.83 790.60 415.30 793.17 417.77 797.46C420.24 801.74 422.71 808.89 425.19 812.89C427.66 816.89 431.36 820.04 432.60 821.47" fill="none" stroke="#df1219" stroke-width="2.1" stroke-linejoin="round"/>
<path d="M136.0 854.0H433.0V614.0H136.0Z" fill="none" stroke="#000" stroke-width="1.9"/>
<path d="M136.0 836.9h-5.4M136.0 802.6h-5.4M136.0 768.3h-5.4M136.0 734.0h-5.4M136.0 699.7h-5.4M136.0 665.4h-5.4M136.0 631.1h-5.4M136.0 854.0h-3.2M136.0 819.8h-3.2M136.0 785.5h-3.2M136.0 751.1h-3.2M136.0 716.9h-3.2M136.0 682.5h-3.2M136.0 648.2h-3.2M136.0 614.0h-3.2M136.0 854.0v4.6M210.2 854.0v4.6M284.3 854.0v4.6M358.4 854.0v4.6M432.6 854.0v4.6M173.1 854.0v2.8M247.2 854.0v2.8M321.4 854.0v2.8M395.5 854.0v2.8" stroke="#000" stroke-width="1.7" fill="none"/>
<g style="font-family:'Liberation Serif',serif;font-weight:bold;font-size:10.6px" fill="#000">
<text x="128.3" y="840.5" text-anchor="end">0</text>
<text x="128.3" y="806.2" text-anchor="end">10</text>
<text x="128.3" y="771.9" text-anchor="end">20</text>
<text x="128.3" y="737.6" text-anchor="end">30</text>
<text x="128.3" y="703.3" text-anchor="end">40</text>
<text x="128.3" y="669.0" text-anchor="end">50</text>
<text x="128.3" y="634.7" text-anchor="end">60</text>
<text x="136.0" y="870.2" text-anchor="middle">0</text>
<text x="210.2" y="870.2" text-anchor="middle">20</text>
<text x="284.3" y="870.2" text-anchor="middle">40</text>
<text x="358.4" y="870.2" text-anchor="middle">60</text>
<text x="432.6" y="870.2" text-anchor="middle">80</text>
</g>
<text x="284.6" y="890" text-anchor="middle" style="font-family:'Liberation Serif',serif;font-weight:bold;font-size:13.2px">Depth of mucus(μm)</text>
<text transform="translate(111.8,733.5) rotate(-90)" text-anchor="middle" style="font-family:'Liberation Serif',serif;font-weight:bold;font-size:13.2px">Fluorescence intensity</text>
<path d="M333.1 626.4H354.5" stroke="#f7a9a3" stroke-width="1.7"/>
<text x="357" y="629.9" style="font-family:'Liberation Serif',serif;font-weight:bold;font-size:10.1px">FITC-ME 5min</text>
<path d="M333.1 639.3H354.5" stroke="#a6cbe9" stroke-width="1.7"/>
<text x="357" y="642.8" style="font-family:'Liberation Serif',serif;font-weight:bold;font-size:10.1px">FITC-W 5min</text>
<path d="M333.1 652.1H354.5" stroke="#df1219" stroke-width="2"/>
<text x="357" y="655.6" style="font-family:'Liberation Serif',serif;font-weight:bold;font-size:10.1px">FITC-ME 15min</text>
<path d="M333.1 665.0H354.5" stroke="#0f63ae" stroke-width="2"/>
<text x="357" y="668.5" style="font-family:'Liberation Serif',serif;font-weight:bold;font-size:10.1px">FITC-W 15min</text>
<text x="449.6" y="622.8" style="font-family:'Liberation Serif',serif;font-weight:bold;font-size:36.5px">D</text>
<defs>
<linearGradient id="b1"><stop offset="0" stop-color="#fdd2cf"/><stop offset="1" stop-color="#f9a8a1"/></linearGradient>
<linearGradient id="b2"><stop offset="0" stop-color="#d9e7f2"/><stop offset="1" stop-color="#9cc5e6"/></linearGradient>
<linearGradient id="b3"><stop offset="0" stop-color="#ffffff"/><stop offset="0.08" stop-color="#fdf4f2"/><stop offset="0.45" stop-color="#f9cdc9"/><stop offset="0.68" stop-color="#f1928c"/><stop offset="0.85" stop-color="#e4474a"/><stop offset="1" stop-color="#d9141a"/></linearGradient>
<linearGradient id="b4"><stop offset="0" stop-color="#ffffff"/><stop offset="0.1" stop-color="#f3f4f7"/><stop offset="0.5" stop-color="#9fb4d4"/><stop offset="1" stop-color="#0c5faf"/></linearGradient>
</defs>
<path d="M541.3 668.8H919" stroke="#d4d4d4" stroke-width="0.8" stroke-dasharray="1.2 1.2"/>
<path d="M541.3 726.8H937" stroke="#d4d4d4" stroke-width="0.8" stroke-dasharray="1.2 1.2"/>
<path d="M541.3 784.2H917" stroke="#d4d4d4" stroke-width="0.8" stroke-dasharray="1.2 1.2"/>
<rect x="541.1" y="626.1" width="237.7" height="28.6" fill="url(#b1)"/>
<rect x="541.1" y="683.6" width="182.0" height="28.6" fill="url(#b2)"/>
<rect x="546.3" y="741.1" width="342.0" height="28.6" fill="url(#b3)"/>
<rect x="546.3" y="798.6" width="194.5" height="28.6" fill="url(#b4)"/>
<path d="M761.6 640.4H796.9M761.6 637.6v5.6M796.9 637.6v5.6M717.8 697.9H728.9M717.8 695.1v5.6M728.9 695.1v5.6M867.6 755.4H909.1M867.6 752.6v5.6M909.1 752.6v5.6M735.5 812.9H746.1M735.5 810.1v5.6M746.1 810.1v5.6" stroke="#111" stroke-width="1.45" fill="none"/>
<path d="M800.5 640.2H923V697.6H734.5M909 755.2H920.6V812.9H752" stroke="#111" stroke-width="1.45" fill="none"/>
<text transform="translate(939.4,673) rotate(-90)" text-anchor="middle" style="font-family:'Liberation Serif',serif;font-size:16px" fill="#3a3a3a" stroke="#3a3a3a" stroke-width="0.3">**</text>
<text transform="translate(937,784.4) rotate(-90)" text-anchor="middle" style="font-family:'Liberation Serif',serif;font-size:16px" fill="#3a3a3a" stroke="#3a3a3a" stroke-width="0.3">***</text>
<path d="M540.3 841.7H938.6V612.4H540.3Z" fill="none" stroke="#000" stroke-width="1.8"/>
<path d="M540.3 640.4h-5.6M540.3 697.9h-5.6M540.3 755.4h-5.6M540.3 812.9h-5.6M540.3 669.1h-3.2M540.3 726.6h-3.2M540.3 784.1h-3.2M540.3 841.7v5.4M549.1 841.7v3M558.0 841.7v3M566.8 841.7v3M575.6 841.7v3M584.5 841.7v5.4M593.3 841.7v3M602.1 841.7v3M611.0 841.7v3M619.8 841.7v3M628.6 841.7v5.4M637.5 841.7v3M646.3 841.7v3M655.1 841.7v3M664.0 841.7v3M672.8 841.7v5.4M681.6 841.7v3M690.5 841.7v3M699.3 841.7v3M708.1 841.7v3M717.0 841.7v5.4M725.8 841.7v3M734.6 841.7v3M743.5 841.7v3M752.3 841.7v3M761.1 841.7v5.4M770.0 841.7v3M778.8 841.7v3M787.6 841.7v3M796.5 841.7v3M805.3 841.7v5.4M814.1 841.7v3M823.0 841.7v3M831.8 841.7v3M840.6 841.7v3M849.5 841.7v5.4M858.3 841.7v3M867.1 841.7v3M876.0 841.7v3M884.8 841.7v3M893.6 841.7v5.4M902.5 841.7v3M911.3 841.7v3M920.1 841.7v3M929.0 841.7v3M937.8 841.7v5.4" stroke="#000" stroke-width="1.6" fill="none"/>
<g style="font-family:'Liberation Serif',serif;font-weight:bold;font-size:12.8px" fill="#000">
<text x="540.3" y="861.6" text-anchor="middle">0</text>
<text x="584.5" y="861.6" text-anchor="middle">5</text>
<text x="628.6" y="861.6" text-anchor="middle">10</text>
<text x="672.8" y="861.6" text-anchor="middle">15</text>
<text x="717.0" y="861.6" text-anchor="middle">20</text>
<text x="761.1" y="861.6" text-anchor="middle">25</text>
<text x="805.3" y="861.6" text-anchor="middle">30</text>
<text x="849.5" y="861.6" text-anchor="middle">35</text>
<text x="893.6" y="861.6" text-anchor="middle">40</text>
<text x="937.8" y="861.6" text-anchor="middle">45</text>
</g>
<g style="font-family:'Liberation Serif',serif;font-weight:bold;font-size:12.4px" fill="#000" text-anchor="end">
<text x="530.6" y="644.4">FITC-ME 5min</text>
<text x="530.6" y="701.9">FITC-W 5min</text>
<text x="530.6" y="759.4">FITC-ME 15min</text>
<text x="530.6" y="816.9">FITC-W 15min</text>
</g>
<text x="738.8" y="885.6" text-anchor="middle" style="font-family:'Liberation Serif',serif;font-weight:bold;font-size:15.7px">Depth of Penetration with Strongest Fluorescence Intensity(μm)</text>
</svg>
</body></html>
